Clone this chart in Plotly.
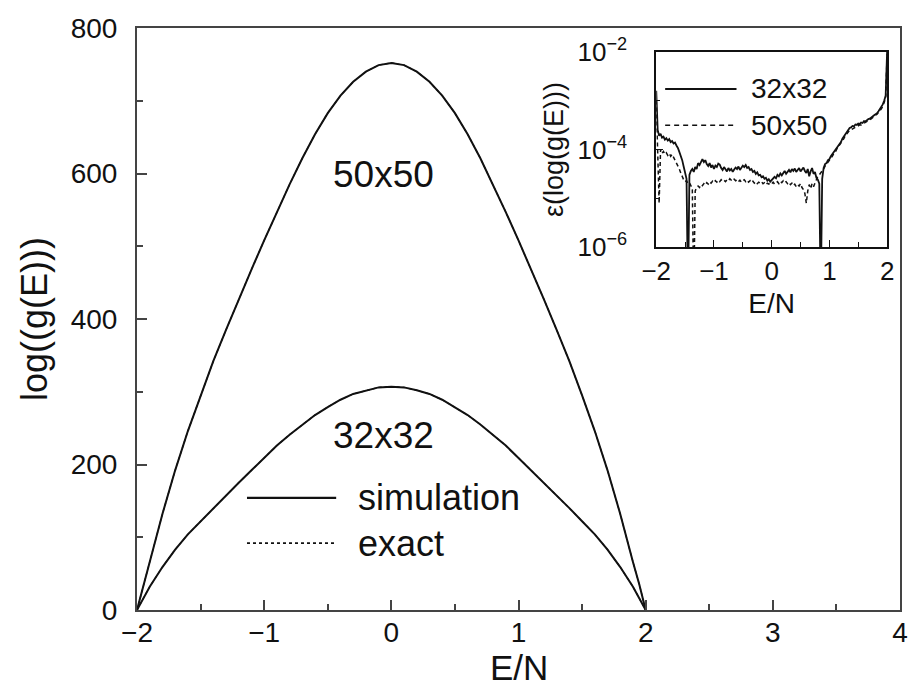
import plotly.graph_objects as go

# ---------------- main panel data: log10 g(E) ----------------
E_main = [-2.0, -1.95, -1.9, -1.8, -1.7, -1.6, -1.5, -1.4, -1.3, -1.2, -1.1, -1.0,
          -0.9, -0.8, -0.7, -0.6, -0.5, -0.4, -0.3, -0.2, -0.1, 0.0,
          0.1, 0.2, 0.3, 0.4, 0.5, 0.6, 0.7, 0.8, 0.9, 1.0,
          1.1, 1.2, 1.3, 1.4, 1.5, 1.6, 1.7, 1.8, 1.9, 1.95, 2.0]

logg_50 = [0, 35, 66, 132, 192, 246, 295, 342, 385, 427, 468, 508,
           547, 585, 621, 654, 683, 707, 726, 740, 749, 752,
           749, 740, 726, 707, 683, 654, 621, 585, 547, 508,
           468, 427, 385, 342, 295, 246, 192, 132, 66, 35, 0]

logg_32 = [0, 17, 32, 59, 83, 104, 122, 140, 158, 175, 192, 209,
           226, 241, 255, 268, 279, 289, 297, 302, 306, 307,
           306, 302, 297, 289, 279, 268, 255, 241, 226, 209,
           192, 175, 158, 140, 122, 104, 83, 59, 32, 17, 0]

# ---------------- inset data: log10 of relative error ----------------
E_inset = [round(-2.0 + 0.025 * i, 3) for i in range(161)]

err32_log10 = [
    -2.80, -3.60, -3.72, -3.68, -3.76, -3.74, -3.80, -3.77,
    -3.82, -3.79, -3.85, -3.83, -3.88, -3.86, -3.92, -3.97,
    -4.05, -4.12, -4.22, -4.35, -4.48, -4.60, -7.00, -4.52,
    -4.44, -4.40, -4.46, -4.36, -4.40, -4.28, -4.32, -4.24,
    -4.20, -4.26, -4.22, -4.30, -4.34, -4.28, -4.37, -4.32,
    -4.40, -4.33, -4.36, -4.29, -4.31, -4.38, -4.42, -4.36,
    -4.40, -4.45, -4.38, -4.43, -4.40, -4.46, -4.41, -4.37,
    -4.40, -4.35, -4.42, -4.38, -4.33, -4.36, -4.32, -4.38,
    -4.36, -4.42, -4.40, -4.46, -4.44, -4.50, -4.47, -4.53,
    -4.52, -4.57, -4.55, -4.60, -4.58, -4.64, -4.61, -4.66,
    -4.63, -4.60, -4.56, -4.59, -4.52, -4.55, -4.49, -4.53,
    -4.48, -4.44, -4.50, -4.45, -4.42, -4.47, -4.40, -4.44,
    -4.39, -4.46, -4.42, -4.38, -4.45, -4.40, -4.37, -4.44,
    -4.48, -4.40, -4.55, -4.45, -4.38, -4.50, -4.46, -4.58,
    -4.62, -4.70, -7.00, -4.60, -4.38, -4.30, -4.28, -4.22,
    -4.20, -4.14, -4.10, -4.05, -4.02, -3.96, -3.93, -3.88,
    -3.85, -3.78, -3.74, -3.68, -3.64, -3.60, -3.56, -3.55,
    -3.52, -3.53, -3.49, -3.50, -3.47, -3.48, -3.45, -3.46,
    -3.42, -3.43, -3.40, -3.38, -3.37, -3.34, -3.33, -3.30,
    -3.28, -3.26, -3.22, -3.18, -3.14, -3.08, -3.00, -2.90,
    -2.00]

err50_log10 = [
    -3.00, -4.05, -5.10, -4.00, -4.08, -4.04, -4.10, -4.07,
    -4.12, -4.08, -4.14, -4.10, -4.16, -4.20, -4.25, -4.32,
    -4.40, -4.48, -4.56, -4.62, -4.66, -4.64, -4.70, -4.68,
    -4.74, -4.80, -7.00, -4.85, -4.78, -4.75, -4.78, -4.72,
    -4.74, -4.70, -4.73, -4.68, -4.71, -4.66, -4.69, -4.65,
    -4.68, -4.64, -4.67, -4.63, -4.66, -4.62, -4.65, -4.63,
    -4.66, -4.62, -4.64, -4.60, -4.63, -4.65, -4.61, -4.64,
    -4.62, -4.66, -4.63, -4.67, -4.64, -4.62, -4.66, -4.63,
    -4.67, -4.64, -4.68, -4.65, -4.69, -4.66, -4.70, -4.67,
    -4.69, -4.66, -4.70, -4.68, -4.72, -4.69, -4.71, -4.68,
    -4.70, -4.67, -4.71, -4.68, -4.66, -4.70, -4.65, -4.68,
    -4.64, -4.68, -4.66, -4.70, -4.67, -4.72, -4.69, -4.74,
    -4.71, -4.76, -4.72, -4.75, -4.70, -4.78, -4.82, -4.90,
    -5.10, -4.85, -4.72, -4.80, -4.70, -4.76, -4.68, -4.60,
    -4.55, -4.52, -4.48, -4.45, -4.40, -4.34, -4.30, -4.26,
    -4.24, -4.18, -4.14, -4.09, -4.06, -4.00, -3.96, -3.92,
    -3.88, -3.82, -3.78, -3.72, -3.68, -3.65, -3.61, -3.60,
    -3.58, -3.56, -3.55, -3.53, -3.52, -3.50, -3.50, -3.48,
    -3.46, -3.45, -3.43, -3.41, -3.40, -3.37, -3.35, -3.33,
    -3.30, -3.28, -3.25, -3.21, -3.17, -3.12, -3.05, -2.95,
    -2.05]

err32 = [10 ** v for v in err32_log10]
err50 = [10 ** v for v in err50_log10]

FONT = "Liberation Sans, Arial, Helvetica, sans-serif"
INK = "#111111"

fig = go.Figure()

# main curves: simulation (solid) and exact (dotted) for both lattices
for name, vals in (("50x50", logg_50), ("32x32", logg_32)):
    fig.add_trace(go.Scatter(x=E_main, y=vals, mode="lines", name=name + " simulation",
                             line=dict(color=INK, width=2),
                             showlegend=False))
    fig.add_trace(go.Scatter(x=E_main, y=vals, mode="lines", name=name + " exact",
                             line=dict(color=INK, width=1.2, dash="dot"),
                             showlegend=False))

# inset curves
fig.add_trace(go.Scatter(x=E_inset, y=err32, mode="lines", name="32x32",
                         line=dict(color=INK, width=1.8),
                         xaxis="x2", yaxis="y2", showlegend=False))
fig.add_trace(go.Scatter(x=E_inset, y=err50, mode="lines", name="50x50",
                         line=dict(color=INK, width=1.5, dash="4px,3px"),
                         xaxis="x2", yaxis="y2", showlegend=False))

W, H = 917, 686
ML, MR, MT, MB = 137, 10, 18, 76
PW, PH = W - ML - MR, H - MT - MB


def px(xp):
    return (xp - ML) / PW


def py(yp):
    return (H - MB - yp) / PH


axis_common = dict(showgrid=False, zeroline=False, showline=True, mirror=True,
                   linecolor="#444444", linewidth=2, ticks="inside",
                   tickcolor="#444444", tickwidth=1.5,
                   tickfont=dict(family=FONT, size=28, color=INK))

fig.update_layout(
    width=W, height=H,
    margin=dict(l=ML, r=MR, t=MT, b=MB, pad=0),
    paper_bgcolor="white", plot_bgcolor="white",
    font=dict(family=FONT, color=INK),
    xaxis=dict(**axis_common, range=[-2, 4], tickvals=[-2, -1, 0, 1, 2, 3, 4], ticklen=10,
               minor=dict(dtick=0.5, tick0=0, ticks="inside", ticklen=6, tickcolor="#444444"),
               ticklabelstandoff=-4,
               automargin=False),
    yaxis=dict(**axis_common, range=[0, 800], tickvals=[0, 200, 400, 600, 800], ticklen=10,
               minor=dict(dtick=100, tick0=0, ticks="inside", ticklen=6, tickcolor="#444444"),
               ticklabelstandoff=12,
               title=dict(text="log((g(E)))", font=dict(family=FONT, size=36, color=INK), standoff=12),
               automargin=False),
    xaxis2=dict(showgrid=False, zeroline=False, showline=True, mirror=True,
                linecolor=INK, linewidth=1.8, ticks="inside", tickcolor=INK, ticklen=7,
                domain=[px(661), px(894)], anchor="y2", range=[-2, 2],
                tickvals=[-2, -1, 0, 1, 2],
                minor=dict(dtick=0.5, tick0=0, ticks="inside", ticklen=5, tickcolor=INK),
                tickfont=dict(family=FONT, size=26, color=INK),
                title=dict(text="E/N", font=dict(family=FONT, size=28, color=INK), standoff=8)),
    yaxis2=dict(type="log", showgrid=False, zeroline=False, showline=True, mirror=True,
                linecolor=INK, linewidth=1.8, ticks="inside", tickcolor=INK, ticklen=7,
                domain=[py(241), py(42)], anchor="x2", range=[-6, -2],
                tickvals=[1e-6, 1e-4, 1e-2],
                ticktext=["10<sup>\u22126</sup>", "10<sup>\u22124</sup>", "10<sup>\u22122</sup>"],
                minor=dict(tickvals=[1e-5, 1e-3], ticks="inside", ticklen=4, tickcolor=INK),
                ticklabelstandoff=22,
                tickfont=dict(family=FONT, size=26, color=INK),
                title=dict(text="\u03b5(log(g(E)))", font=dict(family=FONT, size=27, color=INK), standoff=6)),
)

ANN = dict(xref="paper", yref="paper", showarrow=False, yanchor="middle")

# main x-axis title
fig.add_annotation(x=px(522), y=py(668), text="E/N", xanchor="center",
                   font=dict(family=FONT, size=35, color=INK), **ANN)

# curve labels
fig.add_annotation(x=px(386), y=py(167), text="50x50", xanchor="center",
                   font=dict(family=FONT, size=37, color=INK), **ANN)
fig.add_annotation(x=px(386), y=py(433), text="32x32", xanchor="center",
                   font=dict(family=FONT, size=37, color=INK), **ANN)

# main legend (drawn manually)
fig.add_shape(type="line", xref="paper", yref="paper", x0=px(248), x1=px(338), y0=py(496), y1=py(496),
              line=dict(color=INK, width=2.2))
fig.add_shape(type="line", xref="paper", yref="paper", x0=px(248), x1=px(338), y0=py(542), y1=py(542),
              line=dict(color=INK, width=1.6, dash="dot"))
fig.add_annotation(x=px(358), y=py(496), text="simulation", xanchor="left",
                   font=dict(family=FONT, size=36, color=INK), **ANN)
fig.add_annotation(x=px(358), y=py(542), text="exact", xanchor="left",
                   font=dict(family=FONT, size=36, color=INK), **ANN)

# inset legend
fig.add_shape(type="line", xref="paper", yref="paper", x0=px(670), x1=px(742), y0=py(80), y1=py(80),
              line=dict(color=INK, width=2))
fig.add_shape(type="line", xref="paper", yref="paper", x0=px(670), x1=px(742), y0=py(117), y1=py(117),
              line=dict(color=INK, width=1.5, dash="5px,4px"))
fig.add_annotation(x=px(755), y=py(80), text="32x32", xanchor="left",
                   font=dict(family=FONT, size=28, color=INK), **ANN)
fig.add_annotation(x=px(755), y=py(117), text="50x50", xanchor="left",
                   font=dict(family=FONT, size=28, color=INK), **ANN)

fig.write_html("out.html")
